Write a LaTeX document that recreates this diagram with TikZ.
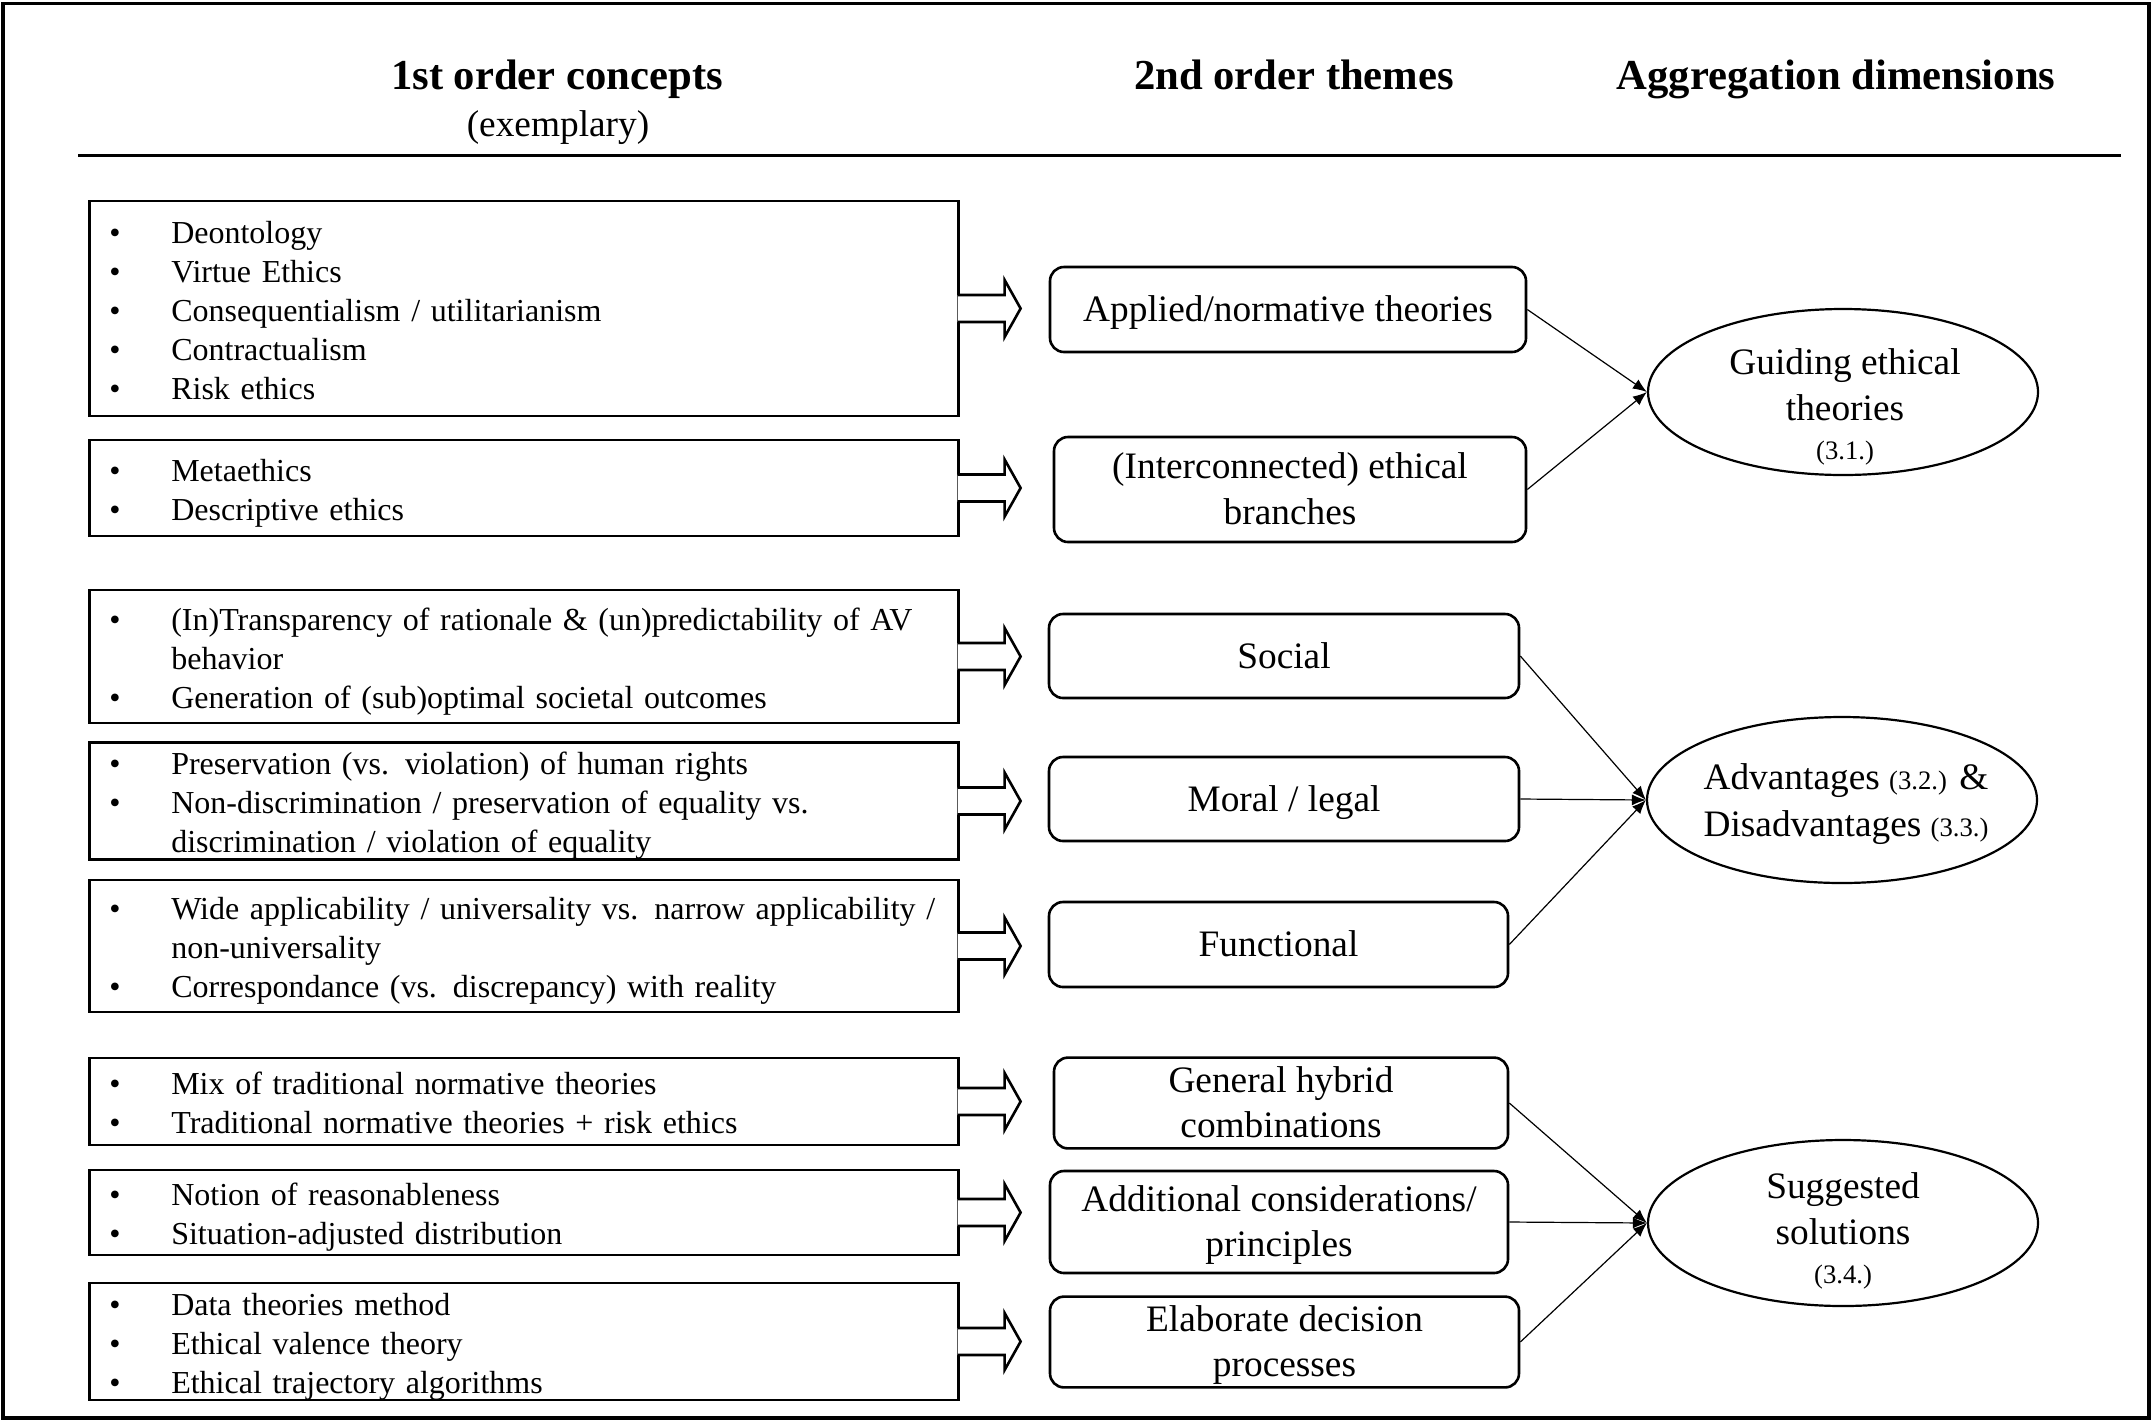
\documentclass[tikz,border=0pt]{standalone}
\usepackage{fontspec}
\setmainfont{Liberation Serif}
\usetikzlibrary{arrows.meta,shapes.geometric,calc}
\newcommand\fbody{\fontsize{16}{19.5}\selectfont}
\newcommand\ftheme{\fontsize{18.67}{22.7}\selectfont}
\newcommand\fhead{\fontsize{21.33}{25}\selectfont\bfseries}
\newcommand\fsmall{\fontsize{13.33}{16}\selectfont}
\newcommand\bodystrut{\rule[-3.5pt]{0pt}{19.5pt}}
\newcommand\themestrut{\rule[-5.3pt]{0pt}{22.7pt}}
\newcommand\blt[1]{\mbox{\bodystrut\makebox[31pt][l]{\textbullet}#1}}
\newcommand\blc[1]{\mbox{\bodystrut\hspace*{31pt}#1}}
\newcommand\blockarrow[1]{\draw[barrow] ([shift={(-1pt,6.75pt)}]#1.east) -- ++(23.5pt,0) -- ++(0,7.5pt) -- ++(8pt,-14.25pt) -- ++(-8pt,-14.25pt) -- ++(0,7.5pt) -- ++(-23.5pt,0);}
\begin{document}
\begin{tikzpicture}[x=0.5pt,y=-0.5pt,
  frame/.style={draw,line width=1.8pt},
  rulestyle/.style={line width=1.5pt},
  head/.style={font=\fhead,anchor=base,inner sep=0pt},
  sub/.style={font=\ftheme,anchor=base,inner sep=0pt},
  lbox/.style={draw,rectangle,line width=1.3pt,inner xsep=10pt,inner ysep=0pt,
    text width=414.5pt,align=left,anchor=west,font=\fbody},
  mbox/.style={draw,rectangle,rounded corners=7pt,line width=1.3pt,inner sep=0pt,
    align=center,font=\ftheme},
  ell/.style={draw,ellipse,line width=1.1pt,inner sep=0pt,minimum width=195pt,minimum height=83pt},
  etext/.style={align=center,font=\ftheme,inner sep=0pt},
  conn/.style={line width=0.6pt,-{Latex[length=7pt,width=5.5pt]}},
  barrow/.style={draw,fill=white,line width=1.3pt,line join=miter}
]
\useasboundingbox (0,0) rectangle (2155,1425);
\draw[frame] (3,3.5) rectangle (2149,1418);

% headers
\node[head] (h1) at (557,89) {1st order concepts};
\node[sub] (h1s) at (558,136) {(exemplary)};
\node[head] (h2) at (1294,89) {2nd order themes};
\node[head] (h3) at (1836,89) {Aggregation dimensions};
\draw[rulestyle] (78,155) -- (2121,155);

% left boxes
\node[lbox,minimum height=107.5pt] (L1) at (88,308.5)
  {\blt{Deontology}\\\blt{Virtue Ethics}\\\blt{Consequentialism / utilitarianism}\\\blt{Contractualism}\\\blt{Risk ethics}};
\node[lbox,minimum height=48pt] (L2) at (88,488)
  {\blt{Metaethics}\\\blt{Descriptive ethics}};
\node[lbox,minimum height=66.5pt] (L3) at (88,656.5)
  {\blt{(In)Transparency of rationale \& (un)predictability of AV}\\\blc{behavior}\\\blt{Generation of (sub)optimal societal outcomes}};
\node[lbox,minimum height=57pt] (L4) at (88,801)
  {\blt{Preservation (vs. violation) of human rights}\\\blt{Non-discrimination / preservation of equality vs.}\\\blc{discrimination / violation of equality}};
\node[lbox,minimum height=66pt] (L5) at (88,946)
  {\blt{Wide applicability / universality vs. narrow applicability /}\\\blc{non-universality}\\\blt{Correspondance (vs. discrepancy) with reality}};
\node[lbox,minimum height=43.5pt] (L6) at (88,1101.5)
  {\blt{Mix of traditional normative theories}\\\blt{Traditional normative theories + risk ethics}};
\node[lbox,minimum height=42.5pt] (L7) at (88,1212.5)
  {\blt{Notion of reasonableness}\\\blt{Situation-adjusted distribution}};
\node[lbox,minimum height=57.5pt] (L8) at (88,1341.5)
  {\blt{Data theories method}\\\blt{Ethical valence theory}\\\blt{Ethical trajectory algorithms}};

% block arrows
\blockarrow{L1}
\blockarrow{L2}
\blockarrow{L3}
\blockarrow{L4}
\blockarrow{L5}
\blockarrow{L6}
\blockarrow{L7}
\blockarrow{L8}

% middle boxes
\node[mbox,minimum width=238pt,minimum height=42.5pt] (M1) at (1288,309.5) {\themestrut Applied/normative theories};
\node[mbox,minimum width=236pt,minimum height=52.5pt] (M2) at (1290,489.5) {\themestrut(Interconnected) ethical\\\themestrut branches};
\node[mbox,minimum width=235pt,minimum height=42pt] (M3) at (1284,656) {\themestrut Social};
\node[mbox,minimum width=235pt,minimum height=42pt] (M4) at (1284,799) {\themestrut Moral / legal};
\node[mbox,minimum width=229.5pt,minimum height=42.5pt] (M5) at (1278.5,944.5) {\themestrut Functional};
\node[mbox,minimum width=227pt,minimum height=42pt] (M6) at (1281,1103) {\themestrut General hybrid\\\themestrut combinations};
\node[mbox,minimum width=229pt,minimum height=51pt] (M7) at (1279,1222) {\themestrut Additional considerations/\\\themestrut principles};
\node[mbox,minimum width=234.5pt,minimum height=42pt] (M8) at (1284.5,1342) {\themestrut Elaborate decision\\\themestrut processes};

% ellipses
\node[ell] (E1) at (1843,392) {};
\node[ell] (E2) at (1842,800) {};
\node[ell] (E3) at (1843,1223) {};
\node[etext] (E1t) at (1845,407) {Guiding ethical\\theories\\[-3pt]{\fsmall(3.1.)}};
\node[etext] (E2t) at (1846,804) {Advantages {\fsmall(3.2.)} \&\\[0.8pt]Disadvantages {\fsmall(3.3.)}};
\node[etext] (E3t) at (1843,1231) {Suggested\\solutions\\[-3pt]{\fsmall(3.4.)}};

% connectors
\draw[conn] (M1.east) -- (E1.west);
\draw[conn] (M2.east) -- (E1.west);
\draw[conn] (M3.east) -- (E2.west);
\draw[conn] (M4.east) -- (E2.west);
\draw[conn] (M5.east) -- (E2.west);
\draw[conn] (M6.east) -- (E3.west);
\draw[conn] (M7.east) -- (E3.west);
\draw[conn] (M8.east) -- (E3.west);
\end{tikzpicture}
\end{document}
